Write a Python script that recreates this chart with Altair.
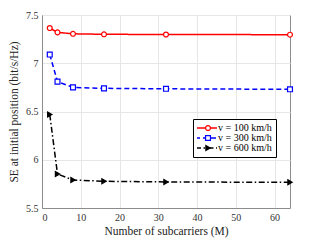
import altair as alt
import pandas as pd

subcarriers = [2, 4, 8, 16, 32, 64]
se_100 = [7.365, 7.32, 7.305, 7.30, 7.298, 7.296]
se_300 = [7.09, 6.81, 6.75, 6.74, 6.735, 6.73]
se_600 = [6.47, 5.852, 5.79, 5.777, 5.77, 5.766]
labels = ["v = 100 km/h", "v = 300 km/h", "v = 600 km/h"]
marker_keys = ["m100", "m300", "m600"]
colors = ["#ff0000", "#0000ff", "#000000"]
fills = ["#ffffff", "#ffffff", "#000000"]
shapes = ["circle", "square", "triangle-right"]
dashes = [[1, 0], [5, 3], [6, 2.5, 1.5, 2.5]]

rows = []
for lab, key, vals in zip(labels, marker_keys, [se_100, se_300, se_600]):
    for m, v in zip(subcarriers, vals):
        rows.append({"M": m, "SE": v, "series": lab, "marker": key})
df = pd.DataFrame(rows)

FONT = "Liberation Serif"

x = alt.X("M:Q", scale=alt.Scale(domain=[0, 64], nice=False),
          axis=alt.Axis(title="Number of subcarriers (M)", values=[0, 10, 20, 30, 40, 50, 60]))
y = alt.Y("SE:Q", scale=alt.Scale(domain=[5.5, 7.5], nice=False),
          axis=alt.Axis(title="SE at initial position (bit/s/Hz)", values=[5.5, 6, 6.5, 7, 7.5],
                        format="~g", titlePadding=6))

legA = alt.Legend(title=None, orient="none", legendX=151, legendY=104,
                  symbolType="stroke", symbolSize=484, symbolStrokeWidth=1.5, symbolOffset=-3,
                  clipHeight=10, strokeColor="#000000", fillColor="#ffffff", padding=4,
                  labelFont=FONT, labelFontSize=10, labelOffset=0, rowPadding=0,
                  labelColor="#000000", zindex=1)
legB = alt.Legend(title=None, orient="none", legendX=151, legendY=104,
                  symbolSize=24, symbolStrokeWidth=1.2, symbolOffset=6,
                  clipHeight=10, padding=4, labelFont=FONT, labelFontSize=10, labelOffset=0,
                  rowPadding=0, labelExpr="''", zindex=2)

lines = alt.Chart(df).mark_line(strokeWidth=1.5).encode(
    x=x, y=y,
    color=alt.Color("series:N", scale=alt.Scale(domain=labels, range=colors), legend=legA),
    strokeDash=alt.StrokeDash("series:N", scale=alt.Scale(domain=labels, range=dashes), legend=legA),
)
points = alt.Chart(df).mark_point(size=24, strokeWidth=1.2, filled=False, opacity=1).encode(
    x=x, y=y,
    stroke=alt.Stroke("marker:N", scale=alt.Scale(domain=marker_keys, range=colors), legend=legB),
    fill=alt.Fill("marker:N", scale=alt.Scale(domain=marker_keys, range=fills), legend=legB),
    shape=alt.Shape("marker:N", scale=alt.Scale(domain=marker_keys, range=shapes), legend=legB),
)

chart = alt.layer(lines, points).properties(
    width=248, height=193,
    padding={"left": 0, "top": 2, "right": 5, "bottom": 2},
    background="#ffffff",
).configure_view(stroke="#8c8c8c", strokeWidth=1).configure_axis(
    labelFont=FONT, labelFontSize=10, titleFont=FONT, titleFontSize=11.5,
    titleFontWeight="normal", labelColor="#333333", titleColor="#222222",
    gridColor="#e6e6e6", domainColor="#8c8c8c", ticks=False, labelPadding=4,
    titlePadding=3,
)

chart.save("out.html", embed_options={"renderer": "svg", "actions": False})
